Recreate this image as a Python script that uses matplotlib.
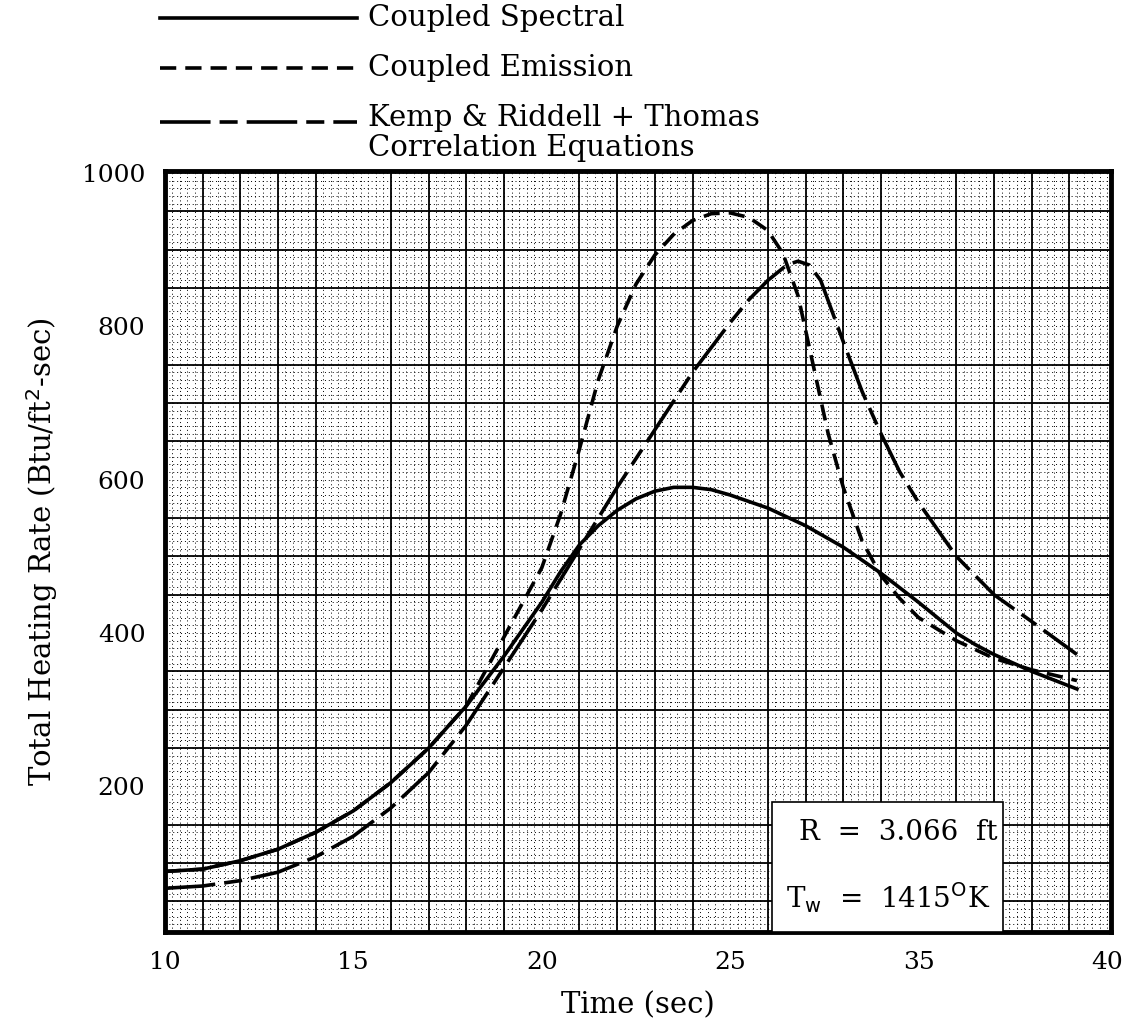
import matplotlib.pyplot as plt
from matplotlib.lines import Line2D
from matplotlib.patches import Rectangle
import numpy as np

# Coupled Spectral (solid)
t_spec = [10, 11, 12, 13, 14, 15, 16, 17, 18, 19, 20, 20.5, 21, 21.5, 22, 22.5, 23, 23.5, 24,
          24.5, 25, 26, 27, 28, 29, 30, 30.5, 31, 31.5, 32, 33, 34.2]
q_spec = [89, 92, 103, 118, 140, 168, 205, 250, 305, 370, 440, 480, 515, 540, 560, 575, 585, 590, 590,
          587, 580, 563, 540, 512, 478, 440, 420, 400, 385, 372, 350, 327]

# Coupled Emission (short dashes)
t_emis = [10, 11, 12, 13, 14, 15, 16, 17, 18, 18.5, 19, 19.5, 20, 20.5, 21, 21.5, 22, 22.5, 23,
          23.5, 24, 24.5, 25, 25.5, 26, 26.4, 26.8, 27.2, 27.6, 28, 28.5, 29, 29.5, 30, 31, 32, 33, 34.2]
q_emis = [89, 92, 103, 118, 140, 168, 205, 250, 305, 350, 395, 440, 485, 555, 640, 730, 800, 855, 893,
          920, 938, 947, 948, 942, 925, 895, 840, 750, 660, 590, 520, 475, 445, 420, 390, 367, 352, 338]

# Kemp & Riddell + Thomas (long-short dashes)
t_kemp = [10, 11, 12, 13, 14, 15, 16, 17, 18, 19, 20, 21, 22, 23, 24, 25, 25.5, 26, 26.5, 26.8,
          27.1, 27.4, 28, 28.5, 29, 29.5, 30, 31, 32, 33, 34.2]
q_kemp = [67, 70, 77, 88, 108, 135, 172, 218, 280, 355, 430, 510, 590, 665, 740, 805, 835, 860, 880, 885,
          880, 860, 780, 715, 660, 610, 570, 500, 450, 415, 372]

xtick_pos = [10, 15, 20, 25, 30, 35]
xtick_lab = ['10', '15', '20', '25', '35', '40']
ytick_pos = [200, 400, 600, 800, 1000]

plt.rcParams['font.family'] = ['DejaVu Serif']

fig = plt.figure(figsize=(11.37, 10.26), dpi=100)
ax = fig.add_axes([0.145, 0.0916, 0.832, 0.742])

ax.set_xlim(10, 35.1)
ax.set_ylim(10, 1003)

# graph paper grid
ax.set_xticks(np.arange(10, 35.1, 1.0), minor=True)
ax.set_yticks(np.arange(50, 1001, 50), minor=True)
ax.grid(which='minor', color='black', linewidth=1.3)
for xv in np.arange(10, 35.1, 0.2):
    ax.axvline(xv, color='black', linewidth=0.7, linestyle=(0, (1, 3)), zorder=0.5)
for yv in np.arange(10, 1003, 10):
    ax.axhline(yv, color='black', linewidth=0.7, linestyle=(0, (1, 3)), zorder=0.5)
ax.set_axisbelow(True)

ax.set_xticks(xtick_pos)
ax.set_xticklabels(xtick_lab)
ax.set_yticks(ytick_pos)
ax.tick_params(which='both', length=0, labelsize=18, pad=14)

for s in ax.spines.values():
    s.set_linewidth(3.5)

lw = 2.6
ax.plot(t_spec, q_spec, color='black', linewidth=lw, zorder=5)
ax.plot(t_emis, q_emis, color='black', linewidth=lw, dashes=(4.5, 2.5), zorder=5)
ax.plot(t_kemp, q_kemp, color='black', linewidth=lw, dashes=(14, 2.5, 5, 2.5), zorder=5)

# parameter box
ax.add_patch(Rectangle((26.1, 10), 6.15, 169, facecolor='white', edgecolor='black',
                       linewidth=1.2, zorder=3))
ax.text(29.45, 140, 'R  =  3.066  ft', fontsize=20, ha='center', va='center', zorder=4)
ax.text(29.2, 55, r'T$_\mathrm{w}$  =  1415$^\mathrm{O}$K', fontsize=20, ha='center', va='center', zorder=4)

ax.set_xlabel('Time (sec)', fontsize=21, labelpad=12)
ax.set_ylabel(r'Total Heating Rate (Btu/ft$^2$-sec)', fontsize=21, labelpad=16)

# legend drawn above the axes
rows = [(0.9825, (None, None)), (0.9337, (4.5, 2.5)), (0.881, (14, 2.5, 5, 2.5))]
for y, d in rows:
    ln = Line2D([0.141, 0.314], [y, y], transform=fig.transFigure, color='black', linewidth=lw)
    if d[0] is not None:
        ln.set_dashes(d)
    fig.add_artist(ln)
fig.text(0.3237, 0.9825, 'Coupled Spectral', fontsize=21, va='center')
fig.text(0.3237, 0.9337, 'Coupled Emission', fontsize=21, va='center')
fig.text(0.3237, 0.885, 'Kemp & Riddell + Thomas', fontsize=21, va='center')
fig.text(0.3237, 0.856, 'Correlation Equations', fontsize=21, va='center')

fig.savefig('out.png', dpi=100)
